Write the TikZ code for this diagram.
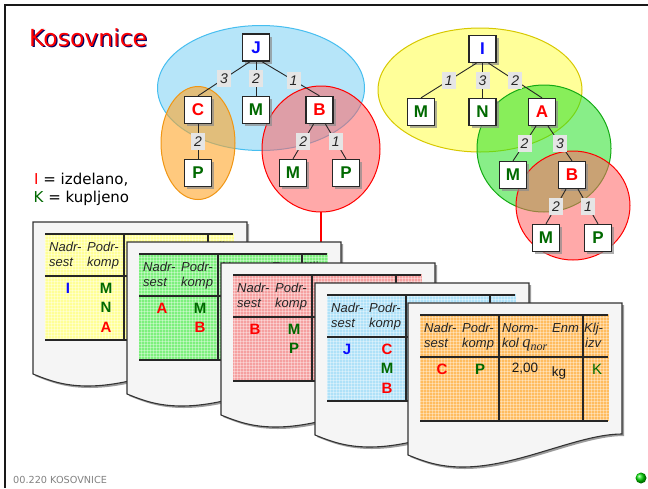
\documentclass[tikz,border=0pt]{standalone}
\usepackage{fontspec}
\setmainfont{Liberation Sans}
\newfontfamily\verd{DejaVu Sans}
\newfontfamily\timesit{Liberation Serif}
\usetikzlibrary{shapes.geometric,shadows,patterns}

\definecolor{partRed}{RGB}{255,0,0}
\definecolor{partGreen}{RGB}{0,105,0}
\definecolor{partBlue}{RGB}{10,10,255}
\definecolor{tabYellow}{RGB}{255,255,150}
\definecolor{tabGreen}{RGB}{125,240,125}
\definecolor{tabRed}{RGB}{245,160,160}
\definecolor{tabBlue}{RGB}{175,225,248}
\definecolor{tabOrange}{RGB}{255,188,95}
\definecolor{paper}{RGB}{245,245,245}
\definecolor{footGrey}{RGB}{130,130,130}
\definecolor{grpBlue}{RGB}{110,205,245}
\definecolor{grpBlueLine}{RGB}{70,190,240}
\definecolor{grpOrange}{RGB}{255,165,40}
\definecolor{grpOrangeLine}{RGB}{240,150,20}
\definecolor{grpRed}{RGB}{255,100,100}
\definecolor{grpYellow}{RGB}{255,255,70}
\definecolor{grpYellowLine}{RGB}{215,200,0}
\definecolor{grpGreen}{RGB}{40,225,40}
\definecolor{grpGreenLine}{RGB}{20,170,20}

\tikzset{
  part/.style={draw=black!85, line width=1.3pt, fill=white, minimum size=27pt,
    inner sep=0pt, font=\fontsize{17}{17}\selectfont\bfseries,
    drop shadow={shadow xshift=2.5pt, shadow yshift=-2.5pt, fill=black!45, opacity=.7}},
  qty/.style={fill=black!10, text=black!85, font=\fontsize{14}{14}\selectfont\itshape,
    inner sep=0pt, minimum width=14pt, minimum height=17pt},
  link/.style={draw=black!85, line width=0.9pt},
  group/.style 2 args={ellipse, draw=#1, fill=#2, fill opacity=.55, line width=1pt,
    inner sep=0pt, outer sep=0pt},
  sheet/.style={draw=black!80, line width=1.1pt, fill=paper,
    drop shadow={shadow xshift=2pt, shadow yshift=-2pt, fill=black!55, opacity=.7}},
  rule/.style={draw=black!85, line width=1.3pt},
  head/.style={anchor=base west, inner sep=0pt, text=black!85,
    font=\fontsize{13}{13}\selectfont\itshape},
  datum/.style={inner sep=0pt, font=\fontsize{15}{15}\selectfont\bfseries},
  plain/.style={inner sep=0pt, anchor=base, text=black!90, font=\fontsize{13.5}{13.5}\selectfont},
  legend/.style={anchor=base west, inner sep=0pt, font=\verd\fontsize{15}{15}\selectfont},
}

% one bill-of-materials sheet: #1 name prefix, #2 origin, #3 table colour, #4 rows
\newcommand\docsheet[4]{%
  \begin{scope}[shift={#2}]
    \draw[sheet] (0,0) -- (214,0) -- (214,131)
      .. controls (170,131) and (110,164) .. (55,164)
      .. controls (30,164) and (15,158) .. (0,152) -- cycle;
    \fill[#3] (12,11) rectangle (201,118);
    \fill[pattern=grid, pattern color=white, opacity=.35] (12,11) rectangle (201,118);
    \draw[rule] (12,12) -- (200,12) (12,54) -- (200,54) (12,118) -- (200,118)
                (91,12) -- (91,118) (175,12) -- (175,118);
    \node[head] (#1-h1) at (16,29) {Nadr-};
    \node[head] (#1-h2) at (16,44) {sest};
    \node[head] (#1-h3) at (54,29) {Podr-};
    \node[head] (#1-h4) at (54,44) {komp};
    \node[head] (#1-h5) at (94,29) {Norm-};
    \node[head] (#1-h6) at (94,44) {kol {\timesit\fontsize{16.5}{16.5}\selectfont\itshape q}\raisebox{-3.5pt}{\timesit\fontsize{12}{12}\selectfont\itshape nor}};
    \node[head] (#1-h7) at (144,29) {Enm};
    \node[head] (#1-h8) at (176,29) {Klj-};
    \node[head] (#1-h9) at (177,44) {izv};
    #4
  \end{scope}}

\begin{document}
\begin{tikzpicture}[x=1pt,y=-1pt]
\useasboundingbox (0,0) rectangle (648,488);
\fill[white] (0,0) rectangle (648,488);

% slide frame
\draw[black!90, line width=2.5pt] (648,5) -- (5,5) -- (5,488);

% title, legend, footer
\node[anchor=base west, inner sep=0pt, text=black!60!blue, font=\verd\fontsize{23.5}{23.5}\selectfont]
  (titleshadow) at (30.2,47.2) {Kosovnice};
\node[anchor=base west, inner sep=0pt, text=partRed, font=\verd\fontsize{23.5}{23.5}\selectfont]
  (title) at (29,46) {Kosovnice};
\node[legend] (leg1) at (34,184.5) {\textcolor{partRed}{I} = izdelano,};
\node[legend] (leg2) at (33.5,202.5) {\textcolor{partGreen}{K} = kupljeno};
\node[anchor=base west, inner sep=0pt, text=footGrey, font=\verd\fontsize{9.7}{9.7}\selectfont]
  (foot) at (13,483) {00.220 KOSOVNICE};
\node[circle, minimum size=11pt, inner sep=0pt, ball color=green!85!black] (dot) at (641,478) {};

% groups of the first tree
\node[group={grpBlueLine}{grpBlue}, fill opacity=.5, minimum width=207pt, minimum height=125pt] (eJ) at (261,88) {};
\node[group={grpOrangeLine}{grpOrange}, fill opacity=.6, minimum width=74pt, minimum height=113pt] (eC) at (198,143) {};
\node[group={red}{grpRed}, minimum width=118pt, minimum height=126pt] (eB) at (321,149) {};

% groups of the second tree
\node[group={grpYellowLine}{grpYellow}, minimum width=204pt, minimum height=124pt] (eI) at (480,90) {};
\node[group={grpGreenLine}{grpGreen}, minimum width=134pt, minimum height=127pt] (eA) at (544,148.5) {};
\node[group={red}{grpRed}, minimum width=114pt, minimum height=109pt] (eB2) at (573,205.5) {};

% first tree
\node[part, text=partBlue] (J) at (256,47.5) {J};
\node[part, text=partRed] (C) at (198,110) {C};
\node[part, text=partGreen] (M1) at (256,110) {M};
\node[part, text=partRed] (B1) at (319.5,110) {B};
\node[part, text=partGreen] (P1) at (198,173) {P};
\node[part, text=partGreen] (M2) at (293,173) {M};
\node[part, text=partGreen] (P2) at (346,173) {P};

\draw[link] ([xshift=-6pt]J.south) -- node[qty] {3} (C.north);
\draw[link] (J.south) -- node[qty] {2} (M1.north);
\draw[link] ([xshift=6pt]J.south) -- node[qty, pos=.55] {1} (B1.north);
\draw[link] (C.south) -- node[qty] {2} (P1.north);
\draw[link] ([xshift=-6pt]B1.south) -- node[qty] {2} (M2.north);
\draw[link] ([xshift=6pt]B1.south) -- node[qty] {1} (P2.north);

% second tree
\node[part, text=partBlue] (I) at (482.5,49) {I};
\node[part, text=partGreen] (M3) at (421,112) {M};
\node[part, text=partGreen] (N) at (482.5,112) {N};
\node[part, text=partRed] (A) at (542,112) {A};
\node[part, text=partGreen] (M4) at (513,175) {M};
\node[part, text=partRed] (B2) at (572,175) {B};
\node[part, text=partGreen] (M5) at (546,238) {M};
\node[part, text=partGreen] (P3) at (598,238) {P};

\draw[link] ([xshift=-6pt]I.south) -- node[qty] {1} (M3.north);
\draw[link] (I.south) -- node[qty] {3} (N.north);
\draw[link] ([xshift=6pt]I.south) -- node[qty] {2} (A.north);
\draw[link] ([xshift=-6pt]A.south) -- node[qty] {2} (M4.north);
\draw[link] ([xshift=6pt]A.south) -- node[qty] {3} (B2.north);
\draw[link] ([xshift=-6pt]B2.south) -- node[qty] {2} (M5.north);
\draw[link] ([xshift=6pt]B2.south) -- node[qty] {1} (P3.north);

% the group B leads to its own sheet
\coordinate (sheetB) at (321,263);
\draw[partRed, line width=2.4pt] (eB.south) -- (sheetB);

% sheets
\docsheet{s1}{(33,222)}{tabYellow}{%
  \node[datum, text=partBlue] (s1-a) at (35,66) {I};
  \node[datum, text=partGreen] (s1-b) at (73,66) {M};
  \node[datum, text=partGreen] (s1-c) at (73,85.5) {N};
  \node[datum, text=partRed] (s1-d) at (73,105) {A};}
\docsheet{s2}{(127,242)}{tabGreen}{%
  \node[datum, text=partRed] (s2-a) at (35,66) {A};
  \node[datum, text=partGreen] (s2-b) at (73,66) {M};
  \node[datum, text=partRed] (s2-c) at (73,85.5) {B};}
\docsheet{s3}{(221,263)}{tabRed}{%
  \node[datum, text=partRed] (s3-a) at (34,66) {B};
  \node[datum, text=partGreen] (s3-b) at (73,66) {M};
  \node[datum, text=partGreen] (s3-c) at (73,85.5) {P};}
\docsheet{s4}{(315,283)}{tabBlue}{%
  \node[datum, text=partBlue] (s4-a) at (32,66) {J};
  \node[datum, text=partRed] (s4-b) at (72,66) {C};
  \node[datum, text=partGreen] (s4-c) at (72,85.5) {M};
  \node[datum, text=partRed] (s4-d) at (72,105) {B};}
\docsheet{s5}{(408,303)}{tabOrange}{%
  \node[datum, text=partRed] (s5-a) at (34,66) {C};
  \node[datum, text=partGreen] (s5-b) at (72,66) {P};
  \node[plain] (s5-c) at (117,69) {2,00};
  \node[plain] (s5-d) at (151,73) {kg};
  \node[inner sep=0pt, text=partGreen, font=\fontsize{15}{15}\selectfont] (s5-e) at (189,66) {K};}

\end{tikzpicture}
\end{document}
